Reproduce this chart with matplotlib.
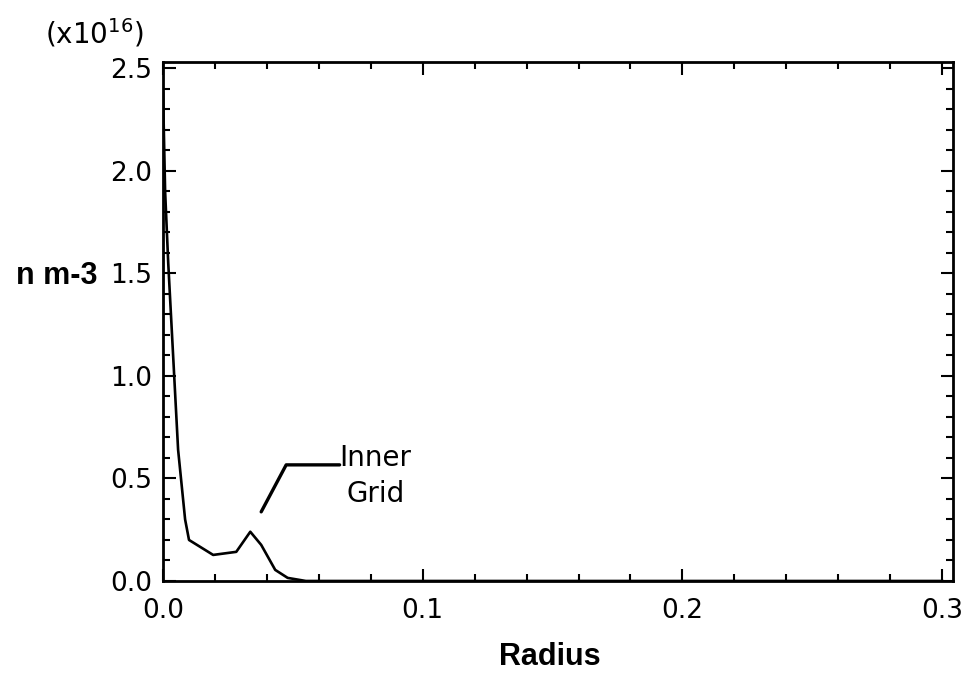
import numpy as np
import matplotlib.pyplot as plt
from matplotlib.ticker import MultipleLocator

# density profile vs radius (values in units of 1e16 m^-3)
radius = [0.0, 0.0008, 0.002, 0.0058, 0.0085, 0.0100, 0.0193, 0.0282,
          0.0336, 0.0378, 0.0432, 0.0480, 0.0550, 0.0800, 0.1500,
          0.2200, 0.3000]
density = [2.38, 1.90, 1.55, 0.64, 0.30, 0.20, 0.127, 0.142,
           0.24, 0.176, 0.054, 0.015, 0.0, 0.0, 0.0, 0.0, 0.0]

x_ticks = [0.0, 0.1, 0.2, 0.3]
y_ticks = [0.0, 0.5, 1.0, 1.5, 2.0, 2.5]

plt.rcParams['font.family'] = ['DejaVu Sans']

fig = plt.figure(figsize=(9.67, 6.78), dpi=100)
ax = fig.add_axes([0.1686, 0.1431, 0.8169, 0.7655])

ax.plot(radius, density, color='black', lw=1.9)

ax.set_xlim(0, 0.3042)
ax.set_ylim(0, 2.53)
ax.set_xticks(x_ticks)
ax.set_xticklabels(['0.0', '0.1', '0.2', '0.3'])
ax.set_yticks(y_ticks)
ax.set_yticklabels(['0.0', '0.5', '1.0', '1.5', '2.0', '2.5'])
ax.xaxis.set_minor_locator(MultipleLocator(0.02))
ax.yaxis.set_minor_locator(MultipleLocator(0.1))

ax.tick_params(which='both', direction='in', top=True, right=True,
               width=1.5, labelsize=19, color='black')
ax.tick_params(which='major', length=9)
ax.tick_params(which='minor', length=5)
ax.tick_params(axis='x', pad=12)
ax.tick_params(axis='y', pad=8)
for s in ax.spines.values():
    s.set_linewidth(2.0)

ax.set_xlabel('Radius', fontsize=22, fontweight='bold', family='Liberation Sans',
              va='center')
ax.xaxis.set_label_coords(0.49, -0.146)
ax.set_ylabel('n m-3', fontsize=22, fontweight='bold', family='Liberation Sans',
              rotation=0, ha='right', va='center')
ax.yaxis.set_label_coords(-0.0835, 0.588)

fig.text(0.098, 0.951, r'(x10$^{16}$)', fontsize=20, ha='center', va='center')

# leader for the "Inner Grid" label
ax.annotate('', xy=(0.0378, 0.337), xytext=(0.0680, 0.566),
            arrowprops=dict(arrowstyle='-', lw=2.4, color='black',
                            shrinkA=0, shrinkB=0,
                            connectionstyle='angle,angleA=0,angleB=62,rad=0'))
ax.text(0.0819, 0.668, 'Inner\nGrid', fontsize=20, ha='center', va='top',
        multialignment='center', linespacing=1.38)

fig.savefig('out.png', dpi=100)
